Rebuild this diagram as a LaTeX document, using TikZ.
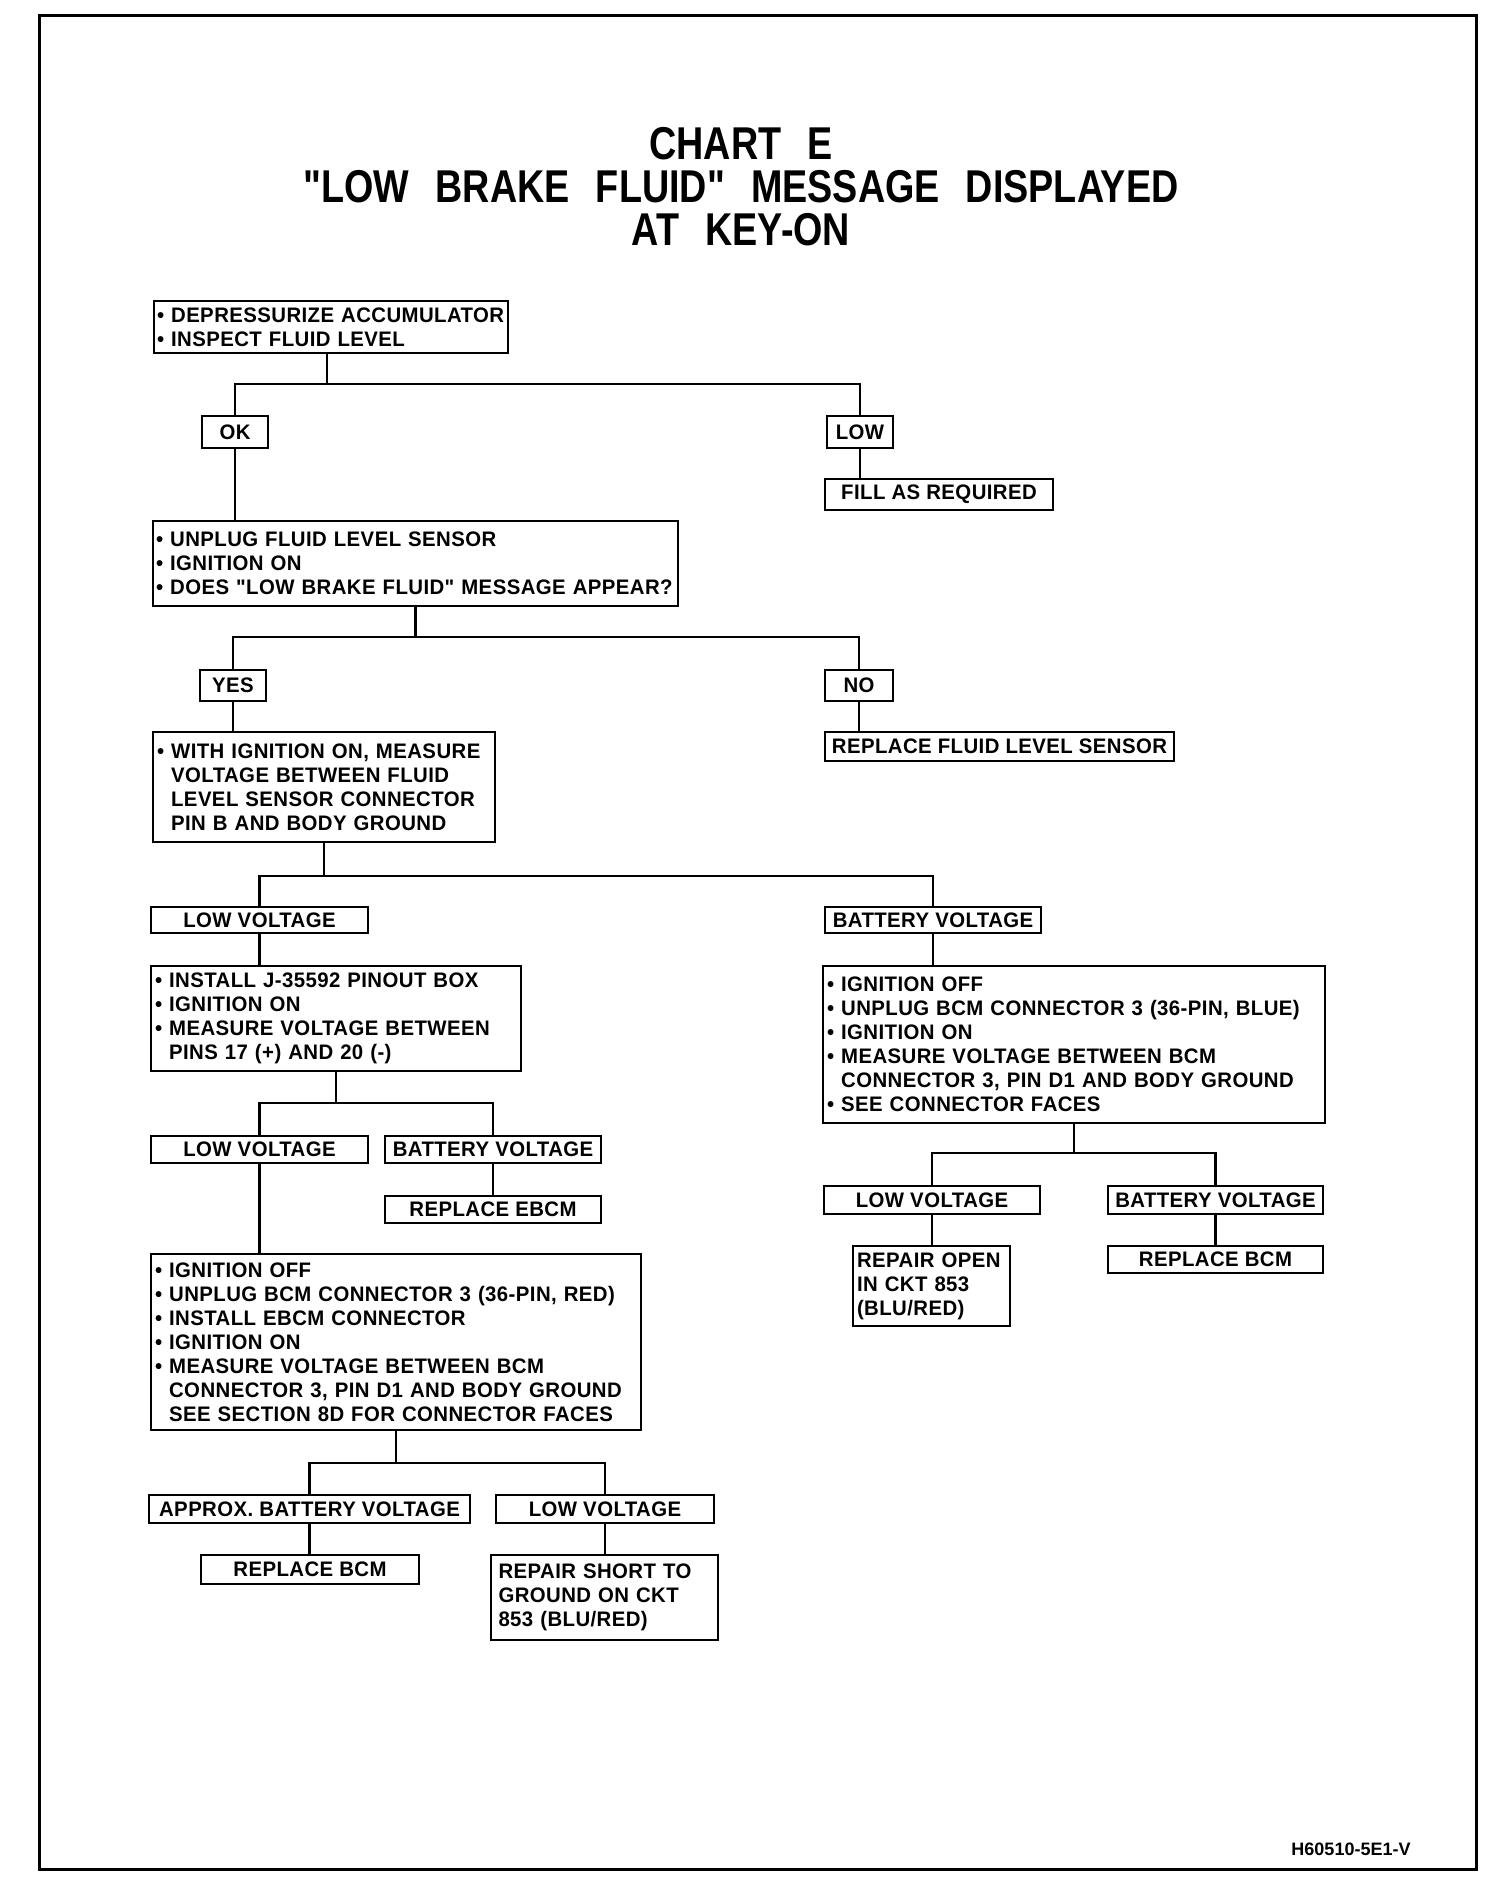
\documentclass[tikz,border=0pt]{standalone}
\usepackage{fontspec}
\setmainfont{Liberation Sans}
\newfontfamily\boxfont{Liberation Sans}[FakeStretch=0.97, LetterSpace=2]
\newfontfamily\titlefont{Liberation Sans}[FakeStretch=0.82, WordSpace=2.5]
\newcommand{\itm}{\textbullet\ }
\newcommand{\ind}{\phantom{\textbullet\ }}

\begin{document}
\begin{tikzpicture}[x=0.5pt, y=-0.5pt,
  box/.style={draw, line width=1.2pt, inner xsep=2pt, inner ysep=1pt,
    font=\boxfont\bfseries\fontsize{10.5}{12}\selectfont},
  lbox/.style 2 args={box, align=left, text width=#1, minimum height=#2},
  cbox/.style 2 args={box, align=center, minimum width=#1, minimum height=#2},
  link/.style={line width=1.1pt}]
  \useasboundingbox (0,0) rectangle (1488,1878);
  \draw[line width=1.5pt] (39,16) rectangle (1476,1869);

  % title
  \node[align=center, font=\titlefont\bfseries\fontsize{23}{21.5}\selectfont]
    (title) at (741,187) {CHART E\\"LOW BRAKE FLUID" MESSAGE DISPLAYED\\AT KEY-ON};

  % fluid level
  \node[lbox={174pt}{26pt}, inner xsep=1.5pt] (acc) at (331,327)
    {\mbox{\itm DEPRESSURIZE ACCUMULATOR}\\\itm INSPECT FLUID LEVEL};
  \node[cbox={33pt}{16pt}] (ok) at (235,432) {OK};
  \node[cbox={33pt}{16pt}] (low) at (860,432) {LOW};
  \node[cbox={114pt}{15.5pt}] (fill) at (939,494.5) {FILL AS REQUIRED};
  \node[lbox={259.5pt}{42.5pt}, inner xsep=1.5pt] (unplug) at (415.5,563.5)
    {\itm UNPLUG FLUID LEVEL SENSOR\\\itm IGNITION ON\\
     \mbox{\itm DOES "LOW BRAKE FLUID" MESSAGE APPEAR?}};

  % message appears?
  \node[cbox={33pt}{15.5pt}] (yes) at (233,685.5) {YES};
  \node[cbox={34pt}{15.5pt}] (no) at (859,685.5) {NO};
  \node[cbox={174.5pt}{14.5pt}] (repsens) at (999.5,746.5) {REPLACE FLUID LEVEL SENSOR};
  \node[lbox={167pt}{55pt}] (meas) at (324,787)
    {\itm WITH IGNITION ON, MEASURE\\\ind VOLTAGE BETWEEN FLUID\\
     \ind LEVEL SENSOR CONNECTOR\\\ind PIN B AND BODY GROUND};

  % sensor pin voltage
  \node[cbox={108.5pt}{13pt}] (lowv1) at (259.5,920) {LOW VOLTAGE};
  \node[cbox={108pt}{13pt}] (batv1) at (933,920) {BATTERY VOLTAGE};
  \node[lbox={181pt}{52.5pt}] (pinout) at (336,1018.5)
    {\itm INSTALL J-35592 PINOUT BOX\\\itm IGNITION ON\\
     \itm MEASURE VOLTAGE BETWEEN\\\ind PINS 17 (+) AND 20 (-)};
  \node[lbox={247pt}{78.5pt}] (bcmblue) at (1074,1044.5)
    {\itm IGNITION OFF\\\itm UNPLUG BCM CONNECTOR 3 (36-PIN, BLUE)\\
     \itm IGNITION ON\\\itm MEASURE VOLTAGE BETWEEN BCM\\
     \ind CONNECTOR 3, PIN D1 AND BODY GROUND\\\itm SEE CONNECTOR FACES};

  % pinout box branch
  \node[cbox={108.5pt}{13.5pt}] (lowv2) at (259.5,1149.5) {LOW VOLTAGE};
  \node[cbox={108pt}{13.5pt}] (batv2) at (493,1149.5) {BATTERY VOLTAGE};
  \node[cbox={108pt}{13.5pt}] (repebcm) at (493,1209.5) {REPLACE EBCM};
  \node[lbox={241pt}{88pt}] (bcmred) at (396,1342)
    {\itm IGNITION OFF\\\itm UNPLUG BCM CONNECTOR 3 (36-PIN, RED)\\
     \itm INSTALL EBCM CONNECTOR\\\itm IGNITION ON\\
     \itm MEASURE VOLTAGE BETWEEN BCM\\\ind CONNECTOR 3, PIN D1 AND BODY GROUND\\
     \ind SEE SECTION 8D FOR CONNECTOR FACES};

  % blue connector branch
  \node[cbox={108pt}{14pt}] (lowv3) at (932,1200) {LOW VOLTAGE};
  \node[cbox={107.5pt}{14pt}] (batv3) at (1215.5,1200) {BATTERY VOLTAGE};
  \node[lbox={74.5pt}{40pt}] (repopen) at (931.5,1286)
    {REPAIR OPEN\\IN CKT 853\\(BLU/RED)};
  \node[cbox={107.5pt}{13.5pt}] (repbcm1) at (1215.5,1259.5) {REPLACE BCM};

  % red connector branch
  \node[cbox={160.5pt}{14pt}] (approx) at (309.5,1509) {APPROX. BATTERY VOLTAGE};
  \node[cbox={109pt}{14pt}] (lowv4) at (605,1509) {LOW VOLTAGE};
  \node[cbox={109pt}{14.5pt}] (repbcm2) at (310,1569.5) {REPLACE BCM};
  \node[lbox={106pt}{42.5pt}, inner xsep=3.75pt] (repshort) at (604.5,1597.5)
    {REPAIR SHORT TO\\GROUND ON CKT\\853 (BLU/RED)};

  \node[font=\bfseries\fontsize{9}{10}\selectfont] (tag) at (1351,1849) {H60510-5E1-V};

  % connectors
  \draw[link] ([xshift=-2pt]acc.south) -- ++(0,30) coordinate (j1);
  \draw[link] (ok.north) |- (j1) -| (low.north);
  \draw[link] (ok.south) -- (ok.south |- unplug.north);
  \draw[link] (low.south) -- (low.south |- fill.north);

  \draw[link] (unplug.south) -- ++(0,30) coordinate (j2);
  \draw[link] (yes.north) |- (j2) -| (no.north);
  \draw[link] (yes.south) -- (yes.south |- meas.north);
  \draw[link] (no.south) -- (no.south |- repsens.north);

  \draw[link] (meas.south) -- ++(0,33) coordinate (j3);
  \draw[link] (lowv1.north) |- (j3) -| (batv1.north);
  \draw[link] (lowv1.south) -- (lowv1.south |- pinout.north);
  \draw[link] (batv1.south) -- (batv1.south |- bcmblue.north);

  \draw[link] (pinout.south) -- ++(0,31) coordinate (j4);
  \draw[link] (lowv2.north) |- (j4) -| (batv2.north);
  \draw[link] (batv2.south) -- (repebcm.north);
  \draw[link] (lowv2.south) -- (lowv2.south |- bcmred.north);

  \draw[link] (bcmblue.south) -- ++(0,29) coordinate (j5);
  \draw[link] (lowv3.north) |- (j5) -| (batv3.north);
  \draw[link] (lowv3.south) -- (lowv3.south |- repopen.north);
  \draw[link] (batv3.south) -- (repbcm1.north);

  \draw[link] (bcmred.south) -- ++(0,32) coordinate (j6);
  \draw[link] (approx.north) |- (j6) -| (lowv4.north);
  \draw[link] (approx.south) -- (approx.south |- repbcm2.north);
  \draw[link] (lowv4.south) -- (lowv4.south |- repshort.north);
\end{tikzpicture}
\end{document}
